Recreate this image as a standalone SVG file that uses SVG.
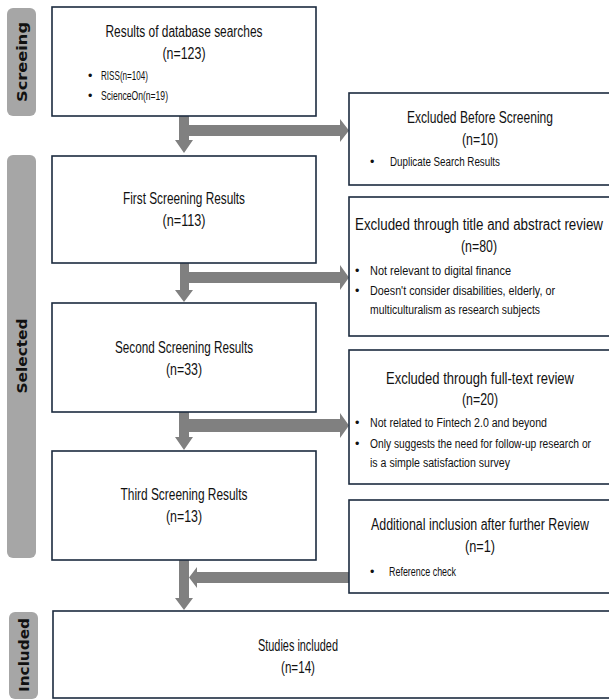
<svg xmlns="http://www.w3.org/2000/svg" width="609" height="699" viewBox="0 0 609 699">
<style>
.box{fill:#ffffff;stroke:#1c2b3f;stroke-width:1.6}
.pill{fill:#a6a6a6}
.side{font-family:"DejaVu Sans",sans-serif;font-weight:bold;font-size:14px;fill:#111;text-anchor:middle;dominant-baseline:central}
.t{font-family:"Liberation Sans Narrow","Liberation Sans",Arial,sans-serif;font-size:16px;fill:#111;text-anchor:middle}
.b{font-family:"Liberation Sans Narrow","Liberation Sans",Arial,sans-serif;font-size:12.5px;fill:#111}
.arr{fill:#808080}
</style>
<rect width="609" height="699" fill="#ffffff"/>
<g id="label-screening">
<rect class="pill" x="7" y="8" width="29" height="108" rx="6"/>
<text class="side" transform="translate(21.5,62) rotate(-90)" textLength="80" lengthAdjust="spacingAndGlyphs">Screeing</text>
</g>
<g id="label-selected">
<rect class="pill" x="7" y="155" width="29" height="403" rx="6"/>
<text class="side" transform="translate(21.5,356) rotate(-90)" textLength="75" lengthAdjust="spacingAndGlyphs">Selected</text>
</g>
<g id="label-included">
<rect class="pill" x="9" y="612" width="29" height="87" rx="6"/>
<text class="side" transform="translate(23.5,655) rotate(-90)" textLength="74" lengthAdjust="spacingAndGlyphs">Included</text>
</g>
<g id="connectors">
<path class="arr" d="M179,116 H189 V125 H340 V119 L349,130.5 L340,142 V136 H189 V140 H193 L184,153 L175,140 H179 Z"/>
<path class="arr" d="M180,263 H189 V272 H340 V265 L349,277.5 L340,290 V283 H189 V290 H193 L184,302 L175,290 H180 Z"/>
<path class="arr" d="M179,412 H189 V419 H340 V413 L349,425.5 L340,438 V432 H189 V437 H193 L184,450 L175,437 H179 Z"/>
<path class="arr" d="M179,560 H189 V598 H193 L184,610 L175,598 H179 Z"/>
<path class="arr" d="M349,572 H197 V567 L189,577.5 L197,588 V583 H349 Z"/>
</g>
<g id="node-database">
<rect class="box" x="52" y="7" width="264" height="109"/>
<text class="t" x="184" y="37" textLength="157" lengthAdjust="spacingAndGlyphs">Results of database searches</text>
<text class="t" x="184" y="59" textLength="43" lengthAdjust="spacingAndGlyphs">(n=123)</text>
<text class="b" x="88" y="80">•</text>
<text class="b" x="101" y="80" textLength="47" lengthAdjust="spacingAndGlyphs">RISS(n=104)</text>
<text class="b" x="88" y="100">•</text>
<text class="b" x="101" y="100" textLength="67" lengthAdjust="spacingAndGlyphs">ScienceOn(n=19)</text>
</g>
<g id="node-excluded-before">
<rect class="box" x="349" y="93" width="264" height="92"/>
<text class="t" x="480" y="123" textLength="146" lengthAdjust="spacingAndGlyphs">Excluded Before Screening</text>
<text class="t" x="480" y="145" textLength="36" lengthAdjust="spacingAndGlyphs">(n=10)</text>
<text class="b" x="370" y="166">•</text>
<text class="b" x="390" y="166" textLength="110" lengthAdjust="spacingAndGlyphs">Duplicate Search Results</text>
</g>
<g id="node-first">
<rect class="box" x="52" y="156" width="264" height="107"/>
<text class="t" x="184" y="204" textLength="122" lengthAdjust="spacingAndGlyphs">First Screening Results</text>
<text class="t" x="184" y="226" textLength="43" lengthAdjust="spacingAndGlyphs">(n=113)</text>
</g>
<g id="node-excluded-title">
<rect class="box" x="349" y="197" width="264" height="139"/>
<text class="t" x="479" y="230" textLength="248" lengthAdjust="spacingAndGlyphs">Excluded through title and abstract review</text>
<text class="t" x="479" y="252" textLength="36" lengthAdjust="spacingAndGlyphs">(n=80)</text>
<text class="b" x="355" y="275">•</text>
<text class="b" x="370" y="275" textLength="141" lengthAdjust="spacingAndGlyphs">Not relevant to digital finance</text>
<text class="b" x="355" y="295">•</text>
<text class="b" x="370" y="295" textLength="185" lengthAdjust="spacingAndGlyphs">Doesn't consider disabilities, elderly, or</text>
<text class="b" x="370" y="314" textLength="170" lengthAdjust="spacingAndGlyphs">multiculturalism as research subjects</text>
</g>
<g id="node-second">
<rect class="box" x="52" y="303" width="264" height="109"/>
<text class="t" x="184" y="353" textLength="138" lengthAdjust="spacingAndGlyphs">Second Screening Results</text>
<text class="t" x="184" y="375" textLength="36" lengthAdjust="spacingAndGlyphs">(n=33)</text>
</g>
<g id="node-excluded-fulltext">
<rect class="box" x="349" y="350" width="264" height="134"/>
<text class="t" x="480" y="384" textLength="188" lengthAdjust="spacingAndGlyphs">Excluded through full-text review</text>
<text class="t" x="480" y="405" textLength="36" lengthAdjust="spacingAndGlyphs">(n=20)</text>
<text class="b" x="355" y="427">•</text>
<text class="b" x="370" y="427" textLength="177" lengthAdjust="spacingAndGlyphs">Not related to Fintech 2.0 and beyond</text>
<text class="b" x="355" y="448">•</text>
<text class="b" x="370" y="448" textLength="221" lengthAdjust="spacingAndGlyphs">Only suggests the need for follow-up research or</text>
<text class="b" x="370" y="467" textLength="140" lengthAdjust="spacingAndGlyphs">is a simple satisfaction survey</text>
</g>
<g id="node-third">
<rect class="box" x="52" y="451" width="264" height="109"/>
<text class="t" x="184" y="500" textLength="127" lengthAdjust="spacingAndGlyphs">Third Screening Results</text>
<text class="t" x="184" y="522" textLength="36" lengthAdjust="spacingAndGlyphs">(n=13)</text>
</g>
<g id="node-additional">
<rect class="box" x="349" y="500" width="264" height="93"/>
<text class="t" x="480" y="530" textLength="218" lengthAdjust="spacingAndGlyphs">Additional inclusion after further Review</text>
<text class="t" x="480" y="552" textLength="30" lengthAdjust="spacingAndGlyphs">(n=1)</text>
<text class="b" x="370" y="576">•</text>
<text class="b" x="389" y="576" textLength="67" lengthAdjust="spacingAndGlyphs">Reference check</text>
</g>
<g id="node-included">
<rect class="box" x="53" y="611" width="560" height="87"/>
<text class="t" x="298" y="651" textLength="80" lengthAdjust="spacingAndGlyphs">Studies included</text>
<text class="t" x="298" y="673" textLength="34" lengthAdjust="spacingAndGlyphs">(n=14)</text>
</g>
</svg>
